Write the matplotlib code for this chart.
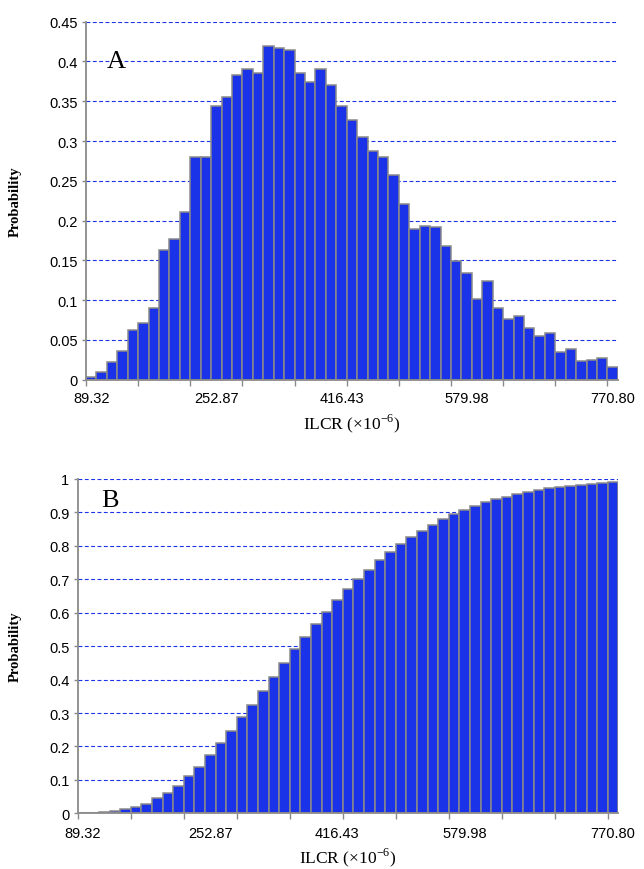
import numpy as np
import matplotlib.pyplot as plt

plt.rcParams['mathtext.fontset'] = 'custom'
plt.rcParams['mathtext.rm'] = 'Liberation Serif'
plt.rcParams['axes.unicode_minus'] = False

# ILCR category values (x10^-6), 51 bins
label_idx = [0, 12, 24, 36, 50]
label_txt = ['89.32', '252.87', '416.43', '579.98', '770.80']

# panel A: probability per bin
prob_a = [0.004, 0.0096, 0.0218, 0.036, 0.063, 0.0712, 0.0897, 0.1626, 0.1773, 0.2112,
          0.280, 0.280, 0.344, 0.355, 0.383, 0.391, 0.385, 0.419, 0.417, 0.414,
          0.386, 0.374, 0.391, 0.371, 0.344, 0.3265, 0.3055, 0.288, 0.280, 0.2577,
          0.2209, 0.189, 0.1928, 0.1915, 0.1676, 0.1496, 0.1337, 0.1014, 0.1236, 0.0905,
          0.0759, 0.0805, 0.065, 0.0553, 0.0591, 0.0348, 0.039, 0.0239, 0.0251, 0.0268,
          0.0159]

# panel B: cumulative probability
prob_b = [0.001, 0.002, 0.004, 0.008, 0.013, 0.020, 0.028, 0.045, 0.062, 0.082,
          0.111, 0.139, 0.173, 0.209, 0.247, 0.287, 0.325, 0.366, 0.409, 0.450,
          0.490, 0.526, 0.565, 0.601, 0.637, 0.670, 0.700, 0.729, 0.758, 0.783,
          0.806, 0.825, 0.845, 0.862, 0.880, 0.894, 0.908, 0.918, 0.931, 0.940,
          0.947, 0.956, 0.962, 0.967, 0.973, 0.977, 0.980, 0.983, 0.985, 0.988,
          0.990]

bar_color = '#1a33e8'
edge_color = '#8a8a8a'
sans = ['Liberation Sans', 'DejaVu Sans']
serif = ['Liberation Serif', 'DejaVu Serif']

fig = plt.figure(figsize=(6.44, 8.70), dpi=100)
ax_a = fig.add_axes([0.1335, 0.5624, 0.826, 0.4115])
ax_b = fig.add_axes([0.1207, 0.0640, 0.8394, 0.3843])


def style_panel(ax, values, ymax, ystep, letter, letter_xy, ylab_x, tpad, lpad):
    x = np.arange(len(values))
    ax.bar(x, values, width=1.0, color=bar_color, edgecolor=edge_color,
           linewidth=1.1, zorder=2)
    ax.set_xlim(-0.5, len(values) - 0.5)
    ax.set_ylim(0, ymax)
    yt = np.round(np.arange(0, ymax + ystep / 2, ystep), 2)
    ax.set_yticks(yt)
    ax.set_yticklabels(['0'] + [f'{v:g}' for v in yt[1:]],
                       fontfamily=sans, fontsize=10.5)
    for v in yt[1:]:
        ax.axhline(v, color=bar_color, lw=0.8, ls=(0, (3.5, 2.2)), zorder=1)
    # category labels and tick marks between categories
    ax.set_xticks(label_idx)
    ax.set_xticklabels(label_txt, fontfamily=sans, fontsize=10.5)
    ax.set_xticks(np.arange(-0.5, len(values) - 1, 5), minor=True)
    ax.tick_params(axis='x', which='major', length=0, pad=tpad)
    ax.tick_params(axis='x', which='minor', length=4, width=1.0, color=edge_color)
    ax.tick_params(axis='y', length=3, width=1.0, color=edge_color, pad=3)
    for s in ['top', 'right']:
        ax.spines[s].set_visible(False)
    for s in ['left', 'bottom']:
        ax.spines[s].set_color(edge_color)
        ax.spines[s].set_linewidth(1.3)
        ax.spines[s].set_zorder(3)
    ax.set_xlabel('ILCR (×10$^{\\mathregular{-6}}$)', fontfamily=serif,
                  fontsize=12.5, labelpad=lpad)
    ax.set_ylabel('Probability', fontfamily=serif, fontweight='bold', fontsize=10.5)
    ax.yaxis.set_label_coords(ylab_x, 0.5)
    ax.text(letter_xy[0], letter_xy[1], letter, transform=ax.transAxes,
            fontfamily=serif, fontsize=19, va='baseline', ha='left', zorder=4)


style_panel(ax_a, prob_a, 0.45, 0.05, 'A', (0.039, 0.8726), -0.12, 8, 5)
style_panel(ax_b, prob_b, 1.0, 0.1, 'B', (0.044, 0.920), -0.103, 9, 4)

fig.savefig('out.png', dpi=100)
